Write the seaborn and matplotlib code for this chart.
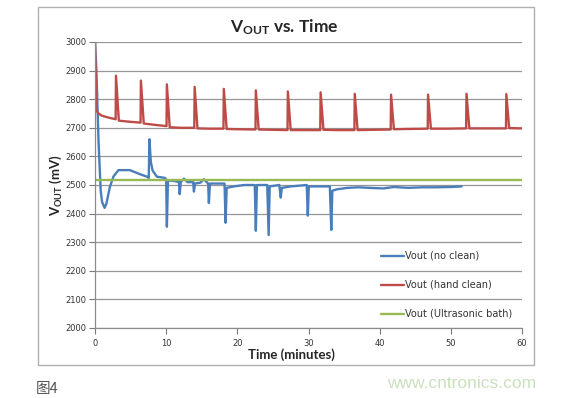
import matplotlib
matplotlib.use("Agg")
import matplotlib.pyplot as plt
import numpy as np
import pandas as pd
import seaborn as sns
from matplotlib.patches import Rectangle

# values (minutes, mV)
no_clean_t = [0, 0.2, 0.5, 0.8, 1.0, 1.35, 1.6, 2.1, 2.6, 3.3, 4.9, 6.3, 7.3, 7.55,
              7.65, 7.85, 8.1, 8.7, 9.8, 10.0, 10.1, 10.25, 11.0, 11.8, 11.9, 12.05,
              12.5, 13.0, 13.8, 13.9, 14.05, 14.8, 15.3, 15.9, 16.0, 16.15, 17.0,
              18.2, 18.35, 18.5, 19.5, 21.0, 22.45, 22.6, 22.75, 24.2, 24.4, 24.55,
              25.9, 26.1, 26.25, 27.5, 29.75, 29.9, 30.05, 31.0, 33.0, 33.2, 33.35,
              34.0, 35.5, 37.0, 38.5, 40.5, 42.0, 44.0, 46.0, 48.0, 50.0, 51.5]
no_clean_v = [3000, 2900, 2650, 2480, 2440, 2420, 2435, 2494, 2530, 2552, 2552, 2538,
              2529, 2525, 2660, 2580, 2550, 2529, 2525, 2520, 2354, 2515, 2515, 2510,
              2468, 2510, 2522, 2510, 2510, 2477, 2505, 2508, 2520, 2505, 2437, 2505,
              2505, 2505, 2368, 2490, 2495, 2500, 2500, 2340, 2500, 2500, 2325, 2495,
              2500, 2456, 2490, 2495, 2500, 2393, 2495, 2495, 2495, 2343, 2480, 2485,
              2490, 2492, 2490, 2488, 2493, 2490, 2492, 2492, 2493, 2495]

hand_clean_t = [0, 0.2, 0.5, 1.0, 2.0, 2.9, 2.95, 3.35, 4.5, 6.4, 6.45, 6.85, 8.5,
                10.05, 10.1, 10.5, 12.0, 13.95, 14.0, 14.4, 16.0, 18.05, 18.1, 18.5,
                20.0, 22.55, 22.6, 23.0, 25.0, 27.05, 27.1, 27.5, 29.5, 31.65, 31.7,
                32.1, 34.0, 36.45, 36.5, 36.9, 39.0, 41.55, 41.6, 42.0, 44.0, 46.75,
                46.8, 47.2, 49.5, 52.15, 52.2, 52.6, 55.0, 57.75, 57.8, 58.2, 60.0]
hand_clean_v = [3000, 2760, 2750, 2742, 2735, 2730, 2882, 2725, 2722, 2718, 2865, 2715,
                2710, 2706, 2852, 2702, 2700, 2700, 2843, 2698, 2697, 2697, 2836, 2696,
                2695, 2694, 2831, 2694, 2693, 2692, 2827, 2692, 2692, 2692, 2824, 2693,
                2692, 2692, 2819, 2692, 2693, 2694, 2816, 2695, 2696, 2697, 2816, 2697,
                2697, 2698, 2819, 2698, 2698, 2698, 2818, 2699, 2698]

bath_t = [0, 60]
bath_v = [2517, 2517]

labels = ["Vout (no clean)", "Vout (hand clean)", "Vout (Ultrasonic bath)"]
colors = ["#4a7ebb", "#be4b48", "#98b954"]

y_ticks = [2000, 2100, 2200, 2300, 2400, 2500, 2600, 2700, 2800, 2900, 3000]
x_ticks = [0, 10, 20, 30, 40, 50, 60]

sns.set_style("white")
plt.rcParams["font.family"] = ["DejaVu Sans", "Noto Sans CJK SC"]
plt.rcParams["mathtext.fontset"] = "custom"
plt.rcParams["mathtext.rm"] = "Lato"
plt.rcParams["mathtext.bf"] = "Lato:bold"

df = pd.concat([
    pd.DataFrame({"t": no_clean_t, "v": no_clean_v, "series": labels[0]}),
    pd.DataFrame({"t": hand_clean_t, "v": hand_clean_v, "series": labels[1]}),
    pd.DataFrame({"t": bath_t, "v": bath_v, "series": labels[2]}),
], ignore_index=True)

fig = plt.figure(figsize=(5.63, 3.98), dpi=100)
ax = fig.add_axes([95 / 563, 1 - 328 / 398, 427 / 563, 286 / 398])

# outer chart frame
fig.patches.append(Rectangle((38 / 563, 1 - 365 / 398), 496 / 563, 358 / 398,
                             transform=fig.transFigure, fill=False,
                             edgecolor="#b0b0b0", linewidth=1.0))

sns.lineplot(data=df, x="t", y="v", hue="series", palette=colors,
             hue_order=labels, sort=False, estimator=None, linewidth=1.7, ax=ax)

ax.set_xlim(0, 60)
ax.set_ylim(2000, 3000)
ax.set_xticks(x_ticks)
ax.set_yticks(y_ticks)
ax.tick_params(axis="both", labelsize=6, colors="#7a7a7a", labelcolor="#333333",
               length=4, width=0.8, direction="out", pad=2)
ax.tick_params(axis="x", bottom=True, pad=4)
ax.tick_params(axis="y", left=True)
ax.yaxis.grid(True, color="#969696", linewidth=0.9)
ax.set_axisbelow(True)
for side in ["top", "right"]:
    ax.spines[side].set_visible(False)
for side in ["left", "bottom"]:
    ax.spines[side].set_color("#8c8c8c")
    ax.spines[side].set_linewidth(0.9)

ax.set_xlabel("")
ax.set_ylabel("")
fig.text(291 / 563, 1 - 355 / 398, "Time (minutes)", ha="center", va="center",
         fontsize=9.5, fontweight="bold", family="Lato")
fig.text(56 / 563, 1 - 185 / 398, r"$\mathbf{V_{OUT}}$ (mV)", ha="center", va="center",
         rotation=90, fontsize=9.5, fontweight="bold", family="Lato")
fig.text(284 / 563, 1 - 27 / 398, r"$\mathbf{V_{OUT}}$ vs. Time", ha="center",
         va="center", fontsize=12.5, fontweight="bold", family="Lato")

handles, _ = ax.get_legend_handles_labels()
ax.legend(handles, labels, loc="upper left", frameon=False,
          bbox_to_anchor=(381 / 563, 1 - 251 / 398), bbox_transform=fig.transFigure,
          fontsize=7, handlelength=2.4, handletextpad=0.1, labelspacing=1.95,
          borderpad=0, borderaxespad=0, labelcolor="#333333")

fig.text(36 / 563, 1 - 389 / 398, "图4", ha="left", va="center", fontsize=10.5,
         color="#555555", family=["Noto Sans CJK SC", "DejaVu Sans"])
fig.text(462 / 563, 1 - 383 / 398, "www.cntronics.com", ha="center", va="center",
         fontsize=12.5, color="#c9e0bd", family="Liberation Sans")

fig.savefig("out.png", dpi=100)
